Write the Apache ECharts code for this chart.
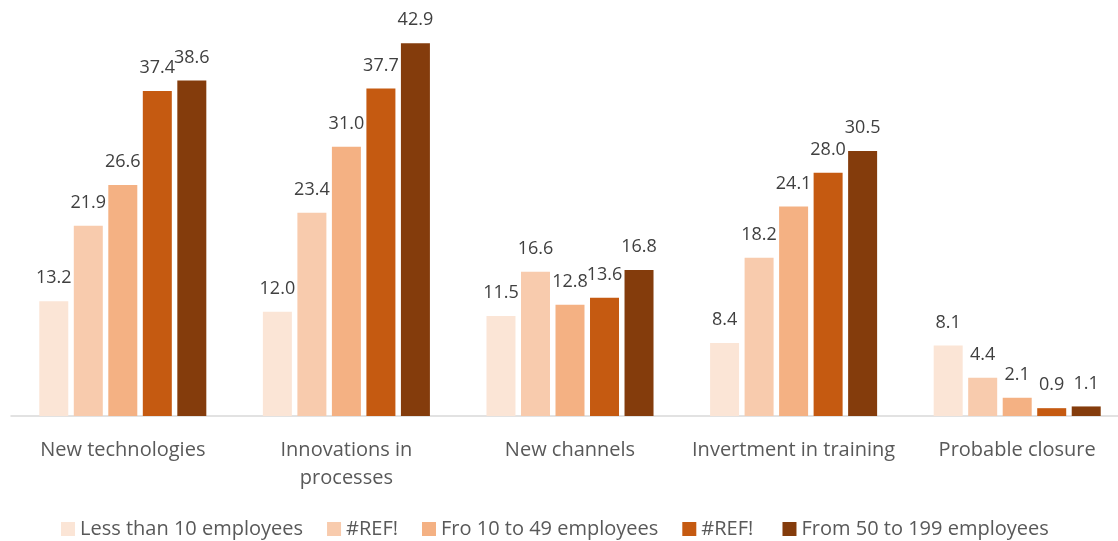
<!DOCTYPE html>
<html>
<head>
<meta charset="utf-8">
<script src="https://cdn.jsdelivr.net/npm/echarts@6/dist/echarts.min.js"></script>
<style>
  html, body { margin: 0; padding: 0; background: #fff; }
  #chart { width: 1118px; height: 541px; }
</style>
</head>
<body>
<div id="chart"></div>
<script>
// categories and series
const categories = ["New technologies", "Innovations in\nprocesses", "New channels", "Invertment in training", "Probable closure"];
const seriesNames = ["Less than 10 employees", "#REF!", "Fro 10 to 49 employees", "#REF! ", "From 50 to 199 employees"];
const lessThan10 = [13.2, 12.0, 11.5, 8.4, 8.1];
const ref1 = [21.9, 23.4, 16.6, 18.2, 4.4];
const from10to49 = [26.6, 31.0, 12.8, 24.1, 2.1];
const ref2 = [37.4, 37.7, 13.6, 28.0, 0.9];
const from50to199 = [38.6, 42.9, 16.8, 30.5, 1.1];

const colors = ["#FBE5D6", "#F8CBAD", "#F4B183", "#C55A11", "#843C0C"];
const values = [lessThan10, ref1, from10to49, ref2, from50to199];

const chart = echarts.init(document.getElementById("chart"));

chart.setOption({
  animation: false,
  color: colors,
  textStyle: { fontFamily: "Open Sans" },
  grid: {
    left: 11, top: 25, right: -11, height: 391,
    containLabel: false,
    outerBoundsMode: "none"
  },
  legend: {
    bottom: -3,
    left: 56,
    itemWidth: 14,
    itemHeight: 14,
    itemGap: 24,
    icon: "rect",
    textStyle: { color: "#595959", fontSize: 20, fontFamily: "Open Sans" },
    data: seriesNames
  },
  xAxis: {
    type: "category",
    data: categories,
    axisLine: { lineStyle: { color: "#D9D9D9", width: 1.5 } },
    axisTick: { show: false },
    axisLabel: {
      color: "#595959",
      fontSize: 20,
      margin: 20,
      lineHeight: 28,
      interval: 0
    }
  },
  yAxis: {
    type: "value",
    min: 0,
    max: 45,
    show: false
  },
  series: values.map((data, i) => ({
    name: seriesNames[i],
    type: "bar",
    data: data,
    barWidth: 29,
    barGap: "19%",
    barCategoryGap: "25%",
    label: {
      show: true,
      position: "top",
      distance: 14,
      color: "#404040",
      fontSize: 18,
      formatter: p => p.value.toFixed(1)
    }
  }))
});
</script>
</body>
</html>
